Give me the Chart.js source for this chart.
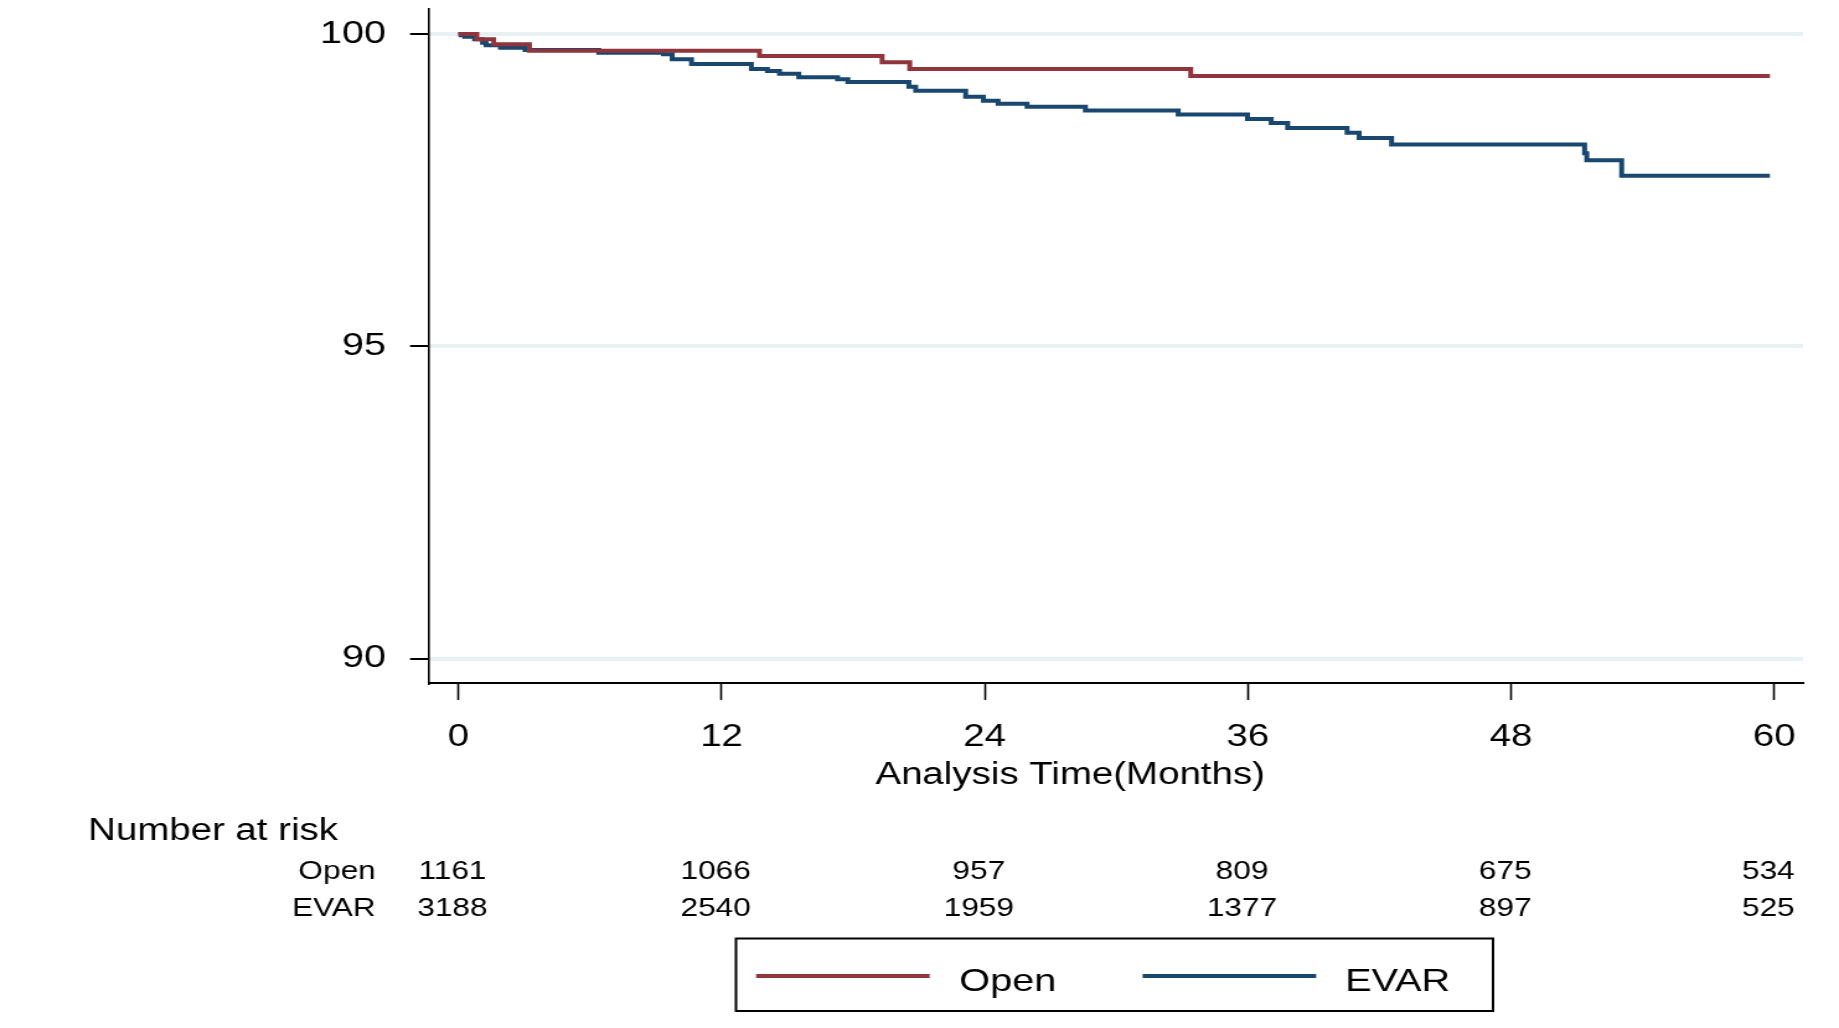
<!DOCTYPE html>
<html>
<head>
<meta charset="utf-8">
<title>Kaplan-Meier: Open vs EVAR</title>
<script src="https://cdn.jsdelivr.net/npm/chart.js@4.4.1/dist/chart.umd.min.js"></script>
<style>
html, body { margin: 0; padding: 0; background: #fff; overflow: hidden; }
</style>
</head>
<body>
<!-- the original graph is stretched horizontally, so the canvas is drawn narrower and widened by css -->
<canvas id="chart" width="1483" height="1028" style="width:1839px;height:1028px;display:block"></canvas>
<script>
// step points: month of event, survival (%) after it
const openMonths = [0, 0.84, 1.61, 3.24, 13.73, 19.32, 20.58, 33.39, 59.8]
const openSurv   = [100, 99.915, 99.835, 99.73, 99.647, 99.546, 99.44, 99.327, 99.327]

const evarMonths = [0, 0.12, 0.29, 0.74, 1.1, 1.26, 1.92, 3.04, 6.4, 9.35, 9.75, 10.63, 13.36, 14.09, 14.64, 15.52,
    17.29, 17.76, 20.54, 20.85, 23.13, 23.94, 24.61, 25.93, 28.59, 32.82, 35.98, 37.06, 37.81, 40.52, 41.07,
    42.55, 51.35, 51.45, 53.04, 59.8]
const evarSurv   = [100, 99.98, 99.957, 99.915, 99.86, 99.82, 99.78, 99.744, 99.70, 99.674, 99.594, 99.519, 99.439, 99.407, 99.364, 99.306,
    99.274, 99.231, 99.156, 99.092, 98.996, 98.932, 98.883, 98.835, 98.777, 98.713, 98.638, 98.574, 98.494, 98.419, 98.333,
    98.232, 98.09, 97.98, 97.73, 97.73]

const xTicks = [0, 12, 24, 36, 48, 60]
const yTicks = [90, 95, 100]

const riskGroups = ['Open', 'EVAR']
const riskOpen = [1161, 1066, 957, 809, 675, 534]
const riskEvar = [3188, 2540, 1959, 1377, 897, 525]

const openColor = '#90353b'
const evarColor = '#1a476f'
const fontFam = '"Liberation Sans", Arial, Helvetica, sans-serif'

//number at risk table, axis title and the boxed legend under the plot
const riskTable = {
    id: 'riskTable',
    afterDraw(chart) {
        let ctx = chart.ctx
        let x = chart.scales.x
        ctx.save()
        ctx.fillStyle = '#000'
        ctx.textBaseline = 'alphabetic'

        ctx.font = `31px ${fontFam}`
        ctx.textAlign = 'center'
        ctx.fillText('Analysis Time(Months)', 863, 784)

        ctx.textAlign = 'left'
        ctx.fillText('Number at risk', 71, 840)

        let rows = [riskOpen, riskEvar]
        let rowY = [879, 916]
        ctx.font = `25.5px ${fontFam}`
        rows.forEach((row, i) => {
            ctx.textAlign = 'right'
            ctx.fillText(riskGroups[i], 303, rowY[i])
            ctx.textAlign = 'center'
            row.forEach((n, j) => ctx.fillText(String(n), x.getPixelForValue(xTicks[j]) - 4.8, rowY[i]))
        })

        // legend box
        ctx.strokeStyle = '#000'
        ctx.lineWidth = 2
        ctx.strokeRect(593.5, 938.5, 610.5, 72.5)
        let sets = chart.data.datasets
        let lineX = [609.7, 921.4]
        let textX = [773.6, 1084.7]
        ctx.font = `32px ${fontFam}`
        ctx.textAlign = 'left'
        sets.forEach((ds, i) => {
            ctx.strokeStyle = ds.borderColor
            ctx.lineWidth = 4
            ctx.beginPath()
            ctx.moveTo(lineX[i], 976)
            ctx.lineTo(lineX[i] + 140, 976)
            ctx.stroke()
            ctx.fillText(ds.label, textX[i], 991)
        })
        ctx.restore()
    }
}

let chart = new Chart(document.querySelector('#chart'), {
    type: 'line',
    data: {
        datasets: [{
            label: 'Open',
            data: openMonths.map((m, i) => ({x: m, y: openSurv[i]})),
            borderColor: openColor,
            borderWidth: 4,
            stepped: 'before',
            pointRadius: 0,
            fill: false
        }, {
            label: 'EVAR',
            data: evarMonths.map((m, i) => ({x: m, y: evarSurv[i]})),
            borderColor: evarColor,
            borderWidth: 4,
            stepped: 'before',
            pointRadius: 0,
            fill: false
        }]
    },
    options: {
        responsive: false,
        devicePixelRatio: 1,
        animation: false,
        layout: {
            autoPadding: false,
            padding: {left: 0, top: 9, right: 29, bottom: 0}
        },
        plugins: {
            legend: {display: false},
            tooltip: {enabled: false}
        },
        scales: {
            x: {
                type: 'linear',
                min: -1.336,
                max: 61.31,
                afterBuildTicks: scale => { scale.ticks = xTicks.map(v => ({value: v})) },
                afterFit: scale => {
                    scale.height = 345
                    scale.paddingLeft = 0
                    scale.paddingRight = 0
                },
                grid: {
                    drawOnChartArea: false,
                    drawTicks: true,
                    tickLength: 17,
                    tickColor: '#000',
                    tickWidth: 1.6
                },
                border: {display: true, color: '#000', width: 2},
                ticks: {
                    color: '#000',
                    padding: 18.5,
                    maxRotation: 0,
                    autoSkip: false,
                    font: {family: fontFam, size: 31}
                }
            },
            y: {
                min: 89.61,
                max: 100.4,
                afterBuildTicks: scale => { scale.ticks = yTicks.map(v => ({value: v})) },
                afterFit: scale => {
                    scale.width = 346
                    scale.paddingTop = 0
                    scale.paddingBottom = 0
                },
                grid: {
                    color: '#e8f0f2',
                    lineWidth: 4,
                    drawTicks: true,
                    tickLength: 15.3,
                    tickColor: '#000',
                    tickWidth: 2
                },
                border: {display: true, color: '#000', width: 1.6},
                ticks: {
                    color: '#000',
                    padding: 19.4,
                    font: {family: fontFam, size: 32}
                }
            }
        }
    },
    plugins: [riskTable]
})
</script>
</body>
</html>
